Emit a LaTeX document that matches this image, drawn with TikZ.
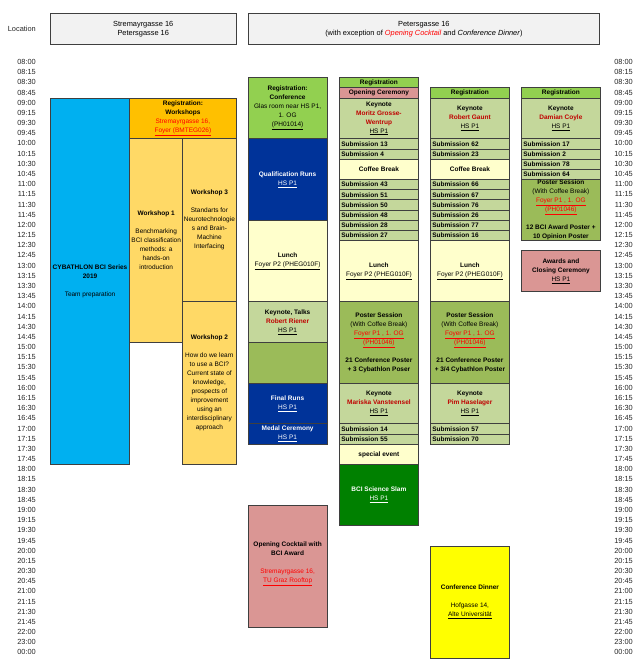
\documentclass[tikz,border=0pt]{standalone}
\usepackage{fontspec}
\setmainfont{Liberation Sans}
\definecolor{edgegray}{HTML}{3F3F3F}
\definecolor{hdrgray}{HTML}{F2F2F2}
\definecolor{timegray}{HTML}{262626}
\definecolor{cybblue}{HTML}{00B0F0}
\definecolor{regorange}{HTML}{FFC000}
\definecolor{wsyellow}{HTML}{FFD966}
\definecolor{reggreen}{HTML}{92D050}
\definecolor{darkblue}{HTML}{003399}
\definecolor{lunchyellow}{HTML}{FFFFCC}
\definecolor{keygreen}{HTML}{C4D79B}
\definecolor{postergreen}{HTML}{9BBB59}
\definecolor{pinkbox}{HTML}{DA9694}
\definecolor{slamgreen}{HTML}{008000}
\definecolor{dinneryellow}{HTML}{FFFF00}
\definecolor{keyred}{HTML}{C00000}
\definecolor{linkred}{HTML}{FF0000}
\newcommand{\boxfont}{\fontsize{6.5}{9}\selectfont}
\newcommand{\timefont}{\fontsize{7.4}{9.3}\selectfont}
\tikzset{
  slot/.style={draw=edgegray, line width=0.8pt, anchor=north west, inner sep=0pt,
    minimum width=79pt, align=center, font=\boxfont},
  rows/.style={minimum height=#1*10.18pt},
  sub/.style={slot, rows=1, fill=keygreen, align=left, text width=75pt, font=\boxfont\bfseries},
  blue/.style={fill=darkblue, text=white},
  hdr/.style={draw=edgegray, line width=0.8pt, fill=hdrgray, anchor=north west, inner sep=0pt,
    minimum height=31.6pt, align=center, font=\timefont},
  tlabel/.style={anchor=east, inner sep=0pt, font=\timefont, text=timegray},
}
\begin{document}
\begin{tikzpicture}[x=1pt, y=-10.18pt]
\useasboundingbox (0,-5.590) rectangle (640,59.537);
% header
\node[tlabel] (loc) at (36,-2.74) {Location};
\node[hdr, minimum width=185.7pt] (hdr1) at (50,-4.34) {Stremayrgasse 16\\Petersgasse 16};
\node[hdr, minimum width=351.6pt] (hdr2) at (247.7,-4.34) {Petersgasse 16\\(with exception of \textit{\textcolor{linkred}{Opening Cocktail}} and \textit{Conference Dinner})};
% time labels
\foreach \h in {8,...,21}
  \foreach \m [count=\j from 0] in {00,15,30,45} {
    \pgfmathtruncatemacro{\r}{(\h-8)*4+\j}
    \node[tlabel] (tl\r) at (36,\r+0.5) {\ifnum\h<10 0\fi\h:\m};
    \node[tlabel] (tr\r) at (633,\r+0.5) {\ifnum\h<10 0\fi\h:\m};
  }
\foreach \t/\r in {22:00/56, 23:00/57, 00:00/58} {
  \node[tlabel] (tl\r) at (36,\r+0.5) {\t};
  \node[tlabel] (tr\r) at (633,\r+0.5) {\t};
}
% workshops
\node[slot, fill=cybblue, minimum width=79.3pt, rows=36] (cyb) at (50,4) {\textbf{CYBATHLON BCI Series}\\\textbf{2019}\\[9pt]Team preparation};
\node[slot, fill=regorange, minimum width=106.4pt, rows=4] (regws) at (129.3,4) {\textbf{Registration:}\\\textbf{Workshops}\\\textcolor{linkred}{Stremayrgasse 16,}\\\textcolor{linkred}{\underline{Foyer (BMTEG026)}}};
\node[slot, fill=wsyellow, minimum width=53pt, rows=20] (ws1) at (129.3,8) {\textbf{Workshop 1}\\[9pt]Benchmarking\\BCI classification\\methods: a\\hands-on\\introduction};
\node[slot, fill=wsyellow, minimum width=53.4pt, rows=16] (ws3) at (182.3,8) {\textbf{Workshop 3}\\[9pt]Standarts for\\Neurotechnologie\\s and Brain-\\Machine\\Interfacing};
\node[slot, fill=wsyellow, minimum width=53.4pt, rows=16] (ws2) at (182.3,24) {\textbf{Workshop 2}\\[9pt]How do we learn\\to use a BCI?\\Current state of\\knowledge,\\prospects of\\improvement\\using an\\interdisciplinary\\approach};
% day 2
\node[slot, fill=reggreen, rows=6] (regconf) at (247.7,2) {\textbf{Registration:}\\\textbf{Conference}\\Glas room near HS P1,\\1. OG\\\underline{(PH01014)}};
\node[slot, blue, rows=8] (qual) at (247.7,8) {\textbf{Qualification Runs}\\\underline{HS P1}};
\node[slot, fill=lunchyellow, rows=8] (lunch2) at (247.7,16) {\textbf{Lunch}\\\underline{Foyer P2 (PHEG010F)}};
\node[slot, fill=keygreen, rows=4] (keyt) at (247.7,24) {\textbf{Keynote, Talks}\\\textcolor{keyred}{\textbf{Robert Riener}}\\\underline{HS P1}};
\node[slot, fill=postergreen, rows=4] (gap2) at (247.7,28) {};
\node[slot, blue, rows=4] (final) at (247.7,32) {\textbf{Final Runs}\\\underline{HS P1}};
\node[slot, blue, rows=2] (medal) at (247.7,36) {\textbf{Medal Ceremony}\\\underline{HS P1}};
\node[slot, fill=pinkbox, rows=12] (cocktail) at (247.7,44) {\textbf{Opening Cocktail with}\\\textbf{BCI Award}\\[9pt]\textcolor{linkred}{Stremayrgasse 16,}\\\textcolor{linkred}{\underline{TU Graz Rooftop}}\\\mbox{}};
% day 3
\node[slot, fill=reggreen, rows=1] (reg3) at (339,2) {\textbf{Registration}};
\node[slot, fill=pinkbox, rows=1] (open3) at (339,3) {\textbf{Opening Ceremony}};
\node[slot, fill=keygreen, rows=4] (key3) at (339,4) {\textbf{Keynote}\\\textcolor{keyred}{\textbf{Moritz Grosse-}}\\\textcolor{keyred}{\textbf{Wentrup}}\\\underline{HS P1}};
\foreach \n/\r in {13/8, 4/9, 43/12, 51/13, 50/14, 48/15, 28/16, 27/17, 14/36, 55/37}
  \node[sub] (sub\n) at (339,\r) {Submission \n};
\node[slot, fill=lunchyellow, rows=2] (coffee3) at (339,10) {\textbf{Coffee Break}};
\node[slot, fill=lunchyellow, rows=6] (lunch3) at (339,18) {\textbf{Lunch}\\\underline{Foyer P2 (PHEG010F)}};
\node[slot, fill=postergreen, rows=8] (poster3) at (339,24) {\textbf{Poster Session}\\(With Coffee Break)\\\textcolor{linkred}{\underline{Foyer P1 , 1. OG}}\\\textcolor{linkred}{\underline{(PH01046)}}\\[9pt]\textbf{21 Conference Poster}\\\textbf{+ 3 Cybathlon Poser}};
\node[slot, fill=keygreen, rows=4] (key3b) at (339,32) {\textbf{Keynote}\\\textcolor{keyred}{\textbf{Mariska Vansteensel}}\\\underline{HS P1}};
\node[slot, fill=lunchyellow, rows=2] (special) at (339,38) {\textbf{special event}};
\node[slot, fill=slamgreen, text=white, rows=6] (slam) at (339,40) {\textbf{BCI Science Slam}\\\underline{HS P1}};
% day 4
\node[slot, fill=reggreen, rows=1] (reg4) at (430,3) {\textbf{Registration}};
\node[slot, fill=keygreen, rows=4] (key4) at (430,4) {\textbf{Keynote}\\\textcolor{keyred}{\textbf{Robert Gaunt}}\\\underline{HS P1}};
\foreach \n/\r in {62/8, 23/9, 66/12, 67/13, 76/14, 26/15, 77/16, 16/17, 57/36, 70/37}
  \node[sub] (sub\n) at (430,\r) {Submission \n};
\node[slot, fill=lunchyellow, rows=2] (coffee4) at (430,10) {\textbf{Coffee Break}};
\node[slot, fill=lunchyellow, rows=6] (lunch4) at (430,18) {\textbf{Lunch}\\\underline{Foyer P2 (PHEG010F)}};
\node[slot, fill=postergreen, rows=8] (poster4) at (430,24) {\textbf{Poster Session}\\(With Coffee Break)\\\textcolor{linkred}{\underline{Foyer P1 , 1. OG}}\\\textcolor{linkred}{\underline{(PH01046)}}\\[9pt]\textbf{21 Conference Poster}\\\textbf{+ 3/4 Cybathlon Poster}};
\node[slot, fill=keygreen, rows=4] (key4b) at (430,32) {\textbf{Keynote}\\\textcolor{keyred}{\textbf{Pim Haselager}}\\\underline{HS P1}};
\node[slot, fill=dinneryellow, rows=11] (dinner) at (430,48) {\textbf{Conference Dinner}\\[9pt]Hofgasse 14,\\\underline{Alte Universität}};
% day 5
\node[slot, fill=reggreen, rows=1] (reg5) at (521,3) {\textbf{Registration}};
\node[slot, fill=keygreen, rows=4] (key5) at (521,4) {\textbf{Keynote}\\\textcolor{keyred}{\textbf{Damian Coyle}}\\\underline{HS P1}};
\foreach \n/\r in {17/8, 2/9, 78/10, 64/11}
  \node[sub] (sub\n) at (521,\r) {Submission \n};
\node[slot, fill=postergreen, rows=6] (poster5) at (521,12) {\textbf{Poster Session}\\(With Coffee Break)\\\textcolor{linkred}{\underline{Foyer P1 , 1. OG}}\\\textcolor{linkred}{\underline{(PH01046)}}\\[9pt]\textbf{12 BCI Award Poster +}\\\textbf{10 Opinion Poster}};
\node[slot, fill=pinkbox, rows=4] (award) at (521,19) {\textbf{Awards and}\\\textbf{Closing Ceremony}\\\underline{HS P1}};
\end{tikzpicture}
\end{document}
